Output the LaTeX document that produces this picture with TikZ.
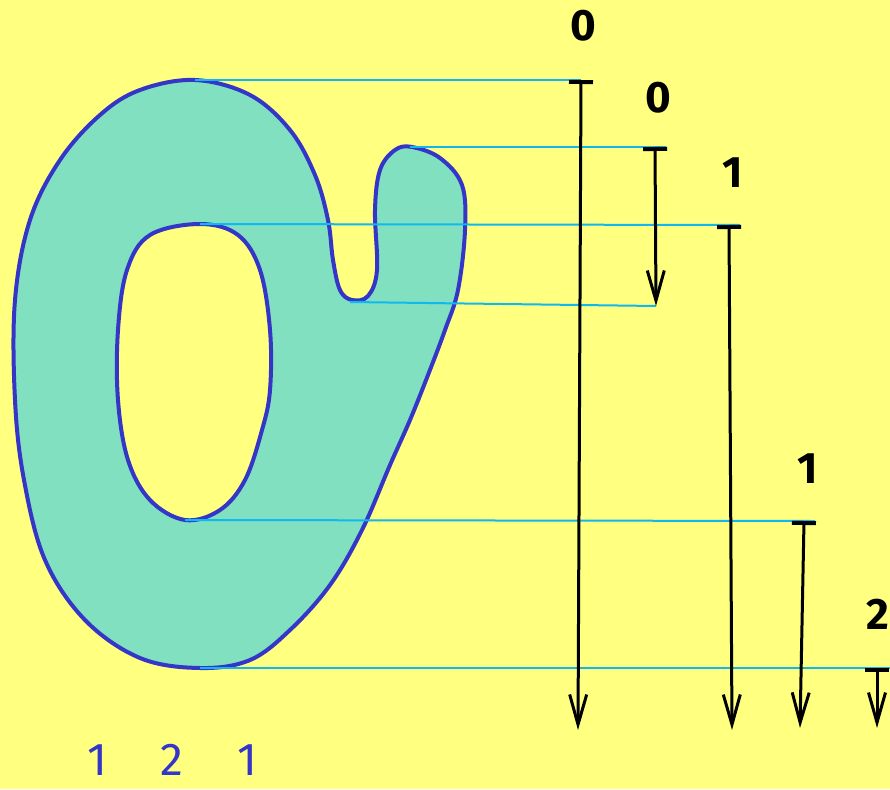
\documentclass[tikz,border=0pt]{standalone}
\usepackage{fontspec}
\setmainfont{Fira Sans}
\usetikzlibrary{arrows.meta}
\definecolor{paper}{HTML}{FFFF80}
\definecolor{mint}{HTML}{80E0C0}
\definecolor{ink}{HTML}{3535C8}
\definecolor{level}{HTML}{10B8F0}

\begin{document}
\begin{tikzpicture}[x=1pt, y=-1pt,
    levelline/.style={level, line width=2pt},
    flow/.style={black, line width=3pt, {Bar[width=24pt, line width=4pt]}-{Straight Barb[length=30pt, width=17pt, line width=3pt]}},
    count/.style={font=\bfseries\fontsize{44}{46}\selectfont, text=black},
    beat/.style={font=\fontsize{46}{48}\selectfont, text=ink}]
  \fill[paper] (0,0) rectangle (890,789);
  \useasboundingbox (0,0) rectangle (890,789);
  % body of the shape with its hole
  \def\outer{(195,80) (250,95) (290,130) (315,175) (328,220) (333,260) (340,290) (352,300) (368,296) (377,270) (375,210) (380,170) (395,150) (412,147) (440,158) (462,185) (465,230) (458,290) (445,330) (428,375) (410,420) (390,465) (362,530) (330,585) (290,630) (250,660) (200,668) (140,658) (85,620) (45,560) (24,480) (15,400) (15,300) (30,220) (60,160) (100,115) (140,90)}
  \def\inner{(200,224) (238,235) (260,270) (270,330) (270,390) (262,430) (245,480) (220,510) (185,520) (150,500) (128,460) (118,400) (118,330) (127,270) (150,235)}
  \fill[mint, even odd rule] plot[smooth cycle, tension=0.6] coordinates {\outer}
                             plot[smooth cycle, tension=0.6] coordinates {\inner};
  \draw[ink, line width=4pt] plot[smooth cycle, tension=0.6] coordinates {\outer};
  \draw[ink, line width=4pt] plot[smooth cycle, tension=0.6] coordinates {\inner};
  % critical points
  \coordinate (top)    at (195,80);
  \coordinate (bump)   at (410,147);
  \coordinate (holetop) at (200,224);
  \coordinate (notch)  at (350,302);
  \coordinate (holebot) at (185,520);
  \coordinate (bottom) at (200,668);
  % starts and ends of the bars
  \coordinate (s1) at (581,80);   \coordinate (e1) at (578,730);
  \coordinate (s2) at (655,147);  \coordinate (e2) at (656,306);
  \coordinate (s3) at (729,225);  \coordinate (e3) at (732,730);
  \coordinate (s4) at (804,521);  \coordinate (e4) at (800,728);
  \coordinate (s5) at (877,668);  \coordinate (e5) at (877,728);
  \coordinate (r2) at (666,147);
  \coordinate (r3) at (740,225);
  \coordinate (r4) at (815,521);
  \coordinate (r5) at (890,668);
  \draw[levelline] (top) -- (s1);
  \draw[levelline] (bump) -- (r2);
  \draw[levelline] (holetop) -- (r3);
  \draw[levelline] (notch) -- (e2);
  \draw[levelline] (holebot) -- (r4);
  \draw[levelline] (bottom) -- (r5);
  \foreach \k in {1,...,5}{
    \draw[flow] (s\k) -- (e\k);}
  % indices
  \node[count] (n1) at (583,26) {0};
  \node[count] (n2) at (658,98) {0};
  \node[count] (n3) at (733,173) {1};
  \node[count] (n4) at (808,469) {1};
  \node[count, anchor=east, inner sep=1pt] (n5) at (890,614) {2};
  \node[beat] (b1) at (97,760) {1};
  \node[beat] (b2) at (172,760) {2};
  \node[beat] (b3) at (247,760) {1};
\end{tikzpicture}
\end{document}
